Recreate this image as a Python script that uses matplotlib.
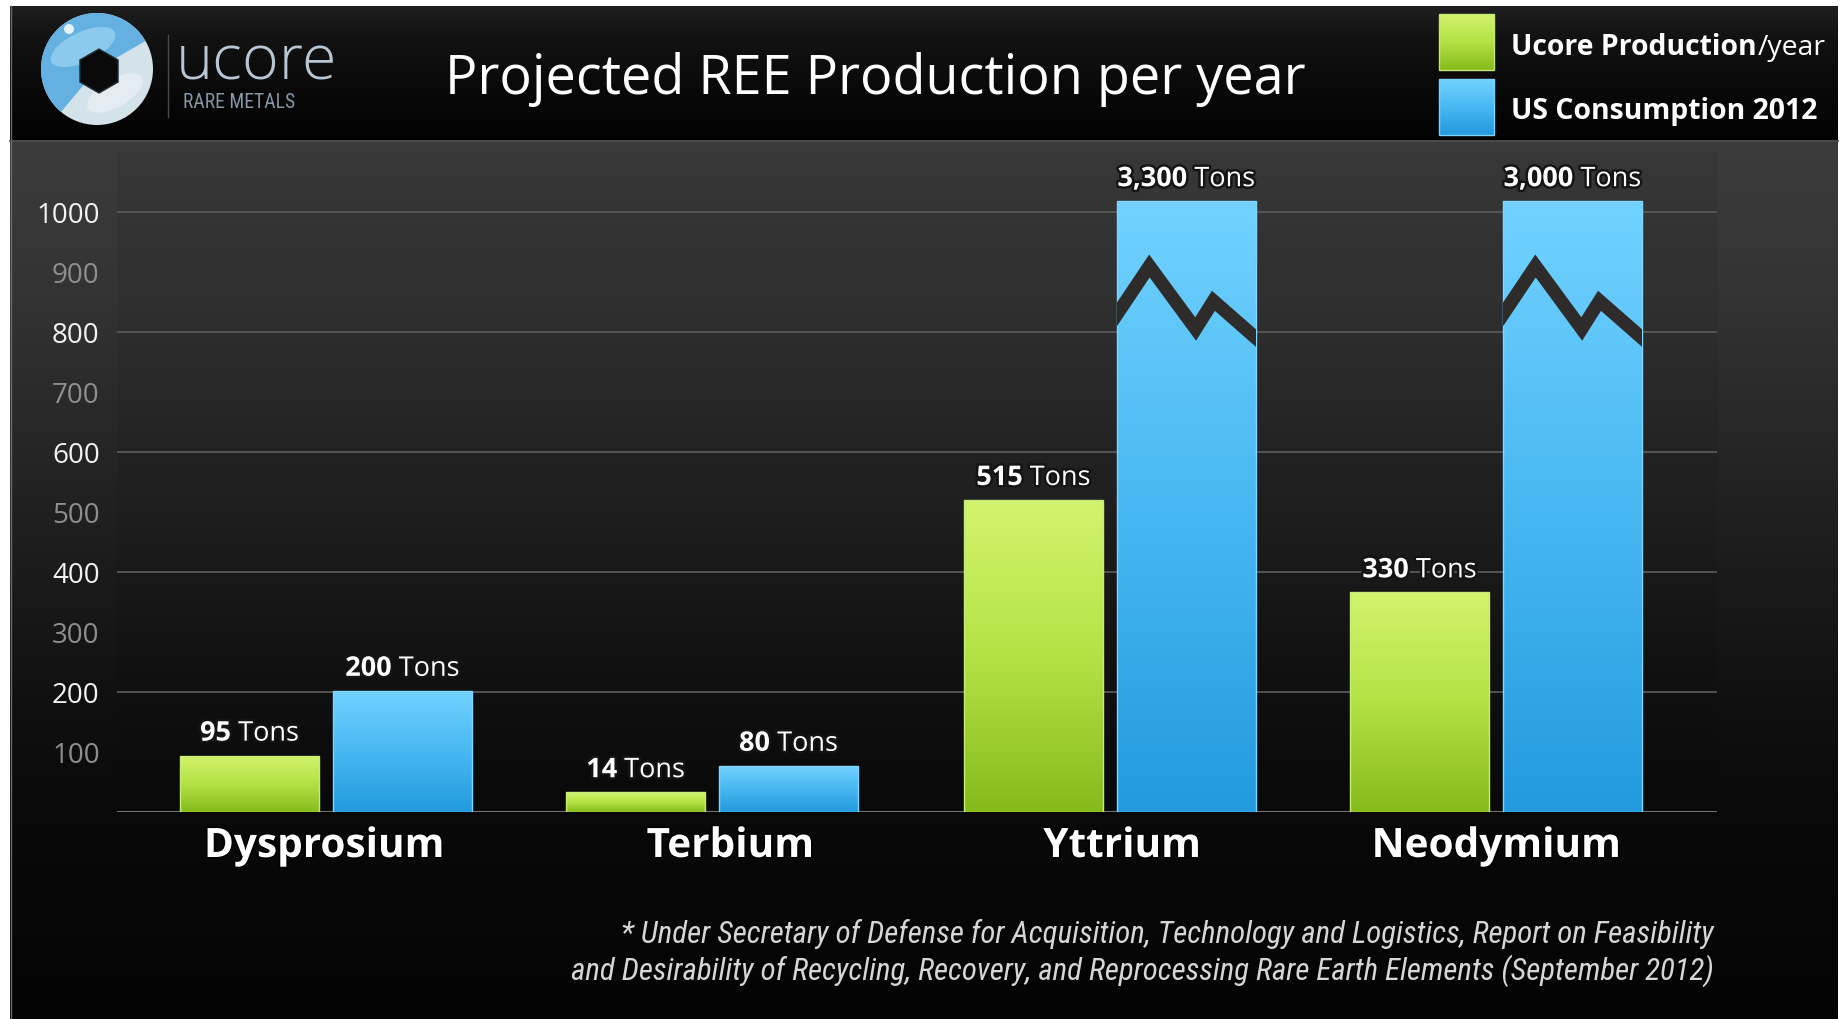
import numpy as np
import matplotlib
matplotlib.use("Agg")
import matplotlib.pyplot as plt
from matplotlib.colors import LinearSegmentedColormap
from matplotlib.patches import Rectangle, Wedge, RegularPolygon, Circle, Ellipse
import matplotlib.patheffects as pe
from matplotlib import font_manager

# ---------------- data ----------------
elements = ["Dysprosium", "Terbium", "Yttrium", "Neodymium"]
ucore_bar = [94, 33, 520, 366]          # bar heights as drawn in the chart
us_bar = [202, 77, 3300, 3000]          # US consumption 2012 (tons)
ucore_labels = ["95", "14", "515", "330"]
us_labels = ["200", "80", "3,300", "3,000"]
yticks = list(range(100, 1001, 100))
series_names = ["Ucore Production", "/year", "US Consumption 2012"]
title = "Projected REE Production per year"
footnote = ["* Under Secretary of Defense for Acquisition, Technology and Logistics, Report on Feasibility",
            "and Desirability of Recycling, Recovery, and Reprocessing Rare Earth Elements (September 2012)"]
AXIS_CAP = 1018   # broken bars are drawn up to this height

# ---------------- layout ----------------
GROUP_X = [0.0, 0.99, 2.01, 3.0]        # group centres (1 unit = 390 px)
CAT_DX_PX = [-2, 18, 12, 0]             # category label nudges in pixels

# ---------------- fonts ----------------
names = {f.name for f in font_manager.fontManager.ttflist}
MAIN = "Open Sans" if "Open Sans" in names else "DejaVu Sans"
NARROW = MAIN
for cand in ["Liberation Sans Narrow", "DejaVu Sans Condensed", "Roboto Condensed"]:
    if cand in names:
        NARROW = cand
        break
plt.rcParams["font.family"] = [MAIN, "DejaVu Sans"]

W, H = 1847, 1020
fig = plt.figure(figsize=(W / 100, H / 100), dpi=100, facecolor="white")
renderer = fig.canvas.get_renderer()


def fit(t, width_px):
    t.set_fontsize(20)
    w = t.get_window_extent(renderer).width
    t.set_fontsize(20 * width_px / w)
    return t.get_fontsize()


# ---------------- background (pixel coords) ----------------
bg = fig.add_axes([0, 0, 1, 1], zorder=0)
bg.set_xlim(0, W)
bg.set_ylim(H, 0)
bg.axis("off")

def vgrad(y0, y1, stops, x0=10, x1=1838):
    ys = np.linspace(y0, y1, 300)
    sp = np.array(stops)
    v = np.interp(ys, sp[:, 0], sp[:, 1])
    arr = np.repeat(v[:, None, None], 3, axis=2)
    bg.imshow(arr, extent=[x0, x1, y1, y0], aspect="auto", interpolation="bilinear", zorder=0)

vgrad(142, H, [(142, 0.235), (300, 0.20), (500, 0.13), (700, 0.065), (830, 0.035), (H, 0.015)])
vgrad(7, 142, [(7, 0.12), (40, 0.07), (100, 0.03), (142, 0.01)])
bg.plot([10, 1838], [142, 142], color="#4e4e4e", lw=1.3, zorder=1)
bg.plot([10.5, 10.5], [7, H], color="#6a6a6a", lw=1.0, zorder=1)
bg.set_xlim(0, W)
bg.set_ylim(H, 0)

# logo
cx, cy = 97, 70
bg.add_patch(Circle((cx, cy), 56, facecolor="#d4e2ea", edgecolor="none", zorder=2))
bg.add_patch(Wedge((cx, cy), 56, 130, 330, facecolor="#58ace0", edgecolor="none", alpha=0.9, zorder=2))
bg.add_patch(Ellipse((cx - 14, cy - 22), 70, 30, angle=-25, facecolor="#a6dcf6", alpha=0.6, zorder=3))
bg.add_patch(Ellipse((cx + 18, cy + 24), 62, 28, angle=-30, facecolor="#f0f4f6", alpha=0.6, zorder=3))
bg.add_patch(RegularPolygon((cx + 2, cy + 2), 6, radius=22, facecolor="#0a0a0a", edgecolor="#20303a", zorder=4))
bg.add_patch(Circle((cx - 28, cy - 40), 5, facecolor="white", alpha=0.85, zorder=4))
bg.plot([168, 168], [36, 118], color="#4a4a4a", lw=1.0, zorder=2)
t = bg.text(176, 79, "ucore", color="#b8c6d4", va="baseline", ha="left", family=[MAIN], weight="light", zorder=5)
fit(t, 162)
t = bg.text(183, 108, "RARE METALS", color="#8796a6", va="baseline", ha="left", family=[NARROW], zorder=5)
fit(t, 112)

# title
t = bg.text(445, 94, title, color="white", va="baseline", ha="left", zorder=5)
fit(t, 857)

# legend
green_cmap = LinearSegmentedColormap.from_list("g", ["#86bb1c", "#b4e244", "#d2f46e"])
blue_cmap = LinearSegmentedColormap.from_list("b", ["#229ade", "#48b8f2", "#72d2ff"])

def grad_patch(axis, patch, cmap, extent, z):
    axis.add_patch(patch)
    g = np.linspace(0, 1, 256)[:, None]
    im = axis.imshow(g, cmap=cmap, extent=extent, origin="lower", aspect="auto",
                     interpolation="bilinear", zorder=z)
    im.set_clip_path(patch)

sq_g = Rectangle((1439, 15), 55, 56, facecolor="none", edgecolor="#c4e878", lw=1.0, zorder=6)
grad_patch(bg, sq_g, green_cmap, [1439, 1494, 71, 15], 5)
sq_b = Rectangle((1439, 80), 55, 56, facecolor="none", edgecolor="#7ad4ff", lw=1.0, zorder=6)
grad_patch(bg, sq_b, blue_cmap, [1439, 1494, 136, 80], 5)
bg.set_xlim(0, W)
bg.set_ylim(H, 0)

t2 = bg.text(1511, 119, series_names[2], color="white", weight="bold", va="baseline", ha="left", zorder=6)
lfs = fit(t2, 307)
t1 = bg.text(1511, 55, series_names[0], color="white", weight="bold", va="baseline", ha="left",
             fontsize=lfs, zorder=6)
w1 = t1.get_window_extent(renderer).width
bg.text(1511 + w1 + 1, 55, series_names[1], color="white", va="baseline", ha="left", fontsize=lfs, zorder=6)

# footnote
ft2 = bg.text(1714, 980, footnote[1], color="#d6d6d6", style="italic", family=[NARROW],
              va="baseline", ha="right", zorder=6)
ffs = fit(ft2, 1145)
bg.text(1714, 943, footnote[0], color="#d6d6d6", style="italic", family=[NARROW],
        va="baseline", ha="right", fontsize=ffs, zorder=6)

# ---------------- main axes ----------------
ax = fig.add_axes([117 / W, 207 / H, 1600 / W, 660 / H], zorder=1)
ax.patch.set_facecolor("black")
ax.patch.set_alpha(0.06)
for s in ax.spines.values():
    s.set_visible(False)
XL = (-(326 - 117) / 390, -(326 - 117) / 390 + 1600 / 390)
YL = (0, 1100)

x = np.array(GROUP_X)
off, bw = 0.196, 0.356

ax.set_yticks(yticks[1::2])
ax.set_yticklabels([str(v) for v in yticks[1::2]])
ax.set_yticks(yticks[0::2], minor=True)
ax.set_yticklabels([str(v) for v in yticks[0::2]], minor=True)
ax.tick_params(axis="y", which="both", length=0, pad=12.5, labelsize=20)
ax.tick_params(axis="y", which="major", labelcolor="#f2f2f2")
ax.tick_params(axis="y", which="minor", labelcolor="#8e8e8e")
ax.set_xticks([])
ax.yaxis.grid(True, which="major", color="#585858", lw=1.3, zorder=0)
ax.set_axisbelow(True)
ax.axhline(0, color="#707070", lw=1.5, zorder=1)

ucore_disp = np.minimum(ucore_bar, AXIS_CAP)
us_disp = np.minimum(us_bar, AXIS_CAP)
gb = ax.bar(x - off, ucore_disp, width=bw, facecolor="none", edgecolor="#c6ea7c", lw=1.0, zorder=3)
bb = ax.bar(x + off, us_disp, width=bw, facecolor="none", edgecolor="#80d6ff", lw=1.0, zorder=3)

for p in gb.patches:
    x0, w_, h_ = p.get_x(), p.get_width(), p.get_height()
    g = np.linspace(0, 1, 256)[:, None]
    im = ax.imshow(g, cmap=green_cmap, extent=[x0, x0 + w_, 0, h_], origin="lower",
                   aspect="auto", interpolation="bilinear", zorder=2)
    im.set_clip_path(p)
for p, v in zip(bb.patches, us_bar):
    x0, w_, h_ = p.get_x(), p.get_width(), p.get_height()
    g = np.linspace(0, 1, 256)[:, None]
    im = ax.imshow(g, cmap=blue_cmap, extent=[x0, x0 + w_, 0, max(h_, 1)], origin="lower",
                   aspect="auto", interpolation="bilinear", zorder=2)
    im.set_clip_path(p)
    if v > AXIS_CAP:
        fx = np.array([-0.05, 0.234, 0.567, 0.695, 1.05])
        fy = np.array([812, 910, 805, 852, 780])
        ln, = ax.plot(x0 + fx * w_, fy, color="#2e2c2b", lw=9.5, solid_joinstyle="miter",
                      solid_capstyle="butt", zorder=4)
        ln.set_clip_path(p)

ax.set_xlim(*XL)
ax.set_ylim(*YL)

# value labels
glow = [pe.withStroke(linewidth=3.5, foreground="#141414")]

def two_part(xc, y, bold, reg, fs=19.5):
    tb = ax.annotate(bold, xy=(xc, y), xytext=(0, 0), textcoords="offset points", ha="left",
                     va="baseline", color="white", weight="bold", fontsize=fs, zorder=6,
                     annotation_clip=False, path_effects=glow)
    tr = ax.annotate(" " + reg, xy=(xc, y), xytext=(0, 0), textcoords="offset points", ha="left",
                     va="baseline", color="white", fontsize=fs, zorder=6,
                     annotation_clip=False, path_effects=glow)
    wb = tb.get_window_extent(renderer).width
    wr = tr.get_window_extent(renderer).width
    start = -(wb + wr) / 2
    tb.set_position((start * 0.72, 15 * 0.72))
    tr.set_position(((start + wb) * 0.72, 15 * 0.72))

for xi, h_, lab in zip(x, ucore_disp, ucore_labels):
    two_part(xi - off, h_, lab, "Tons")
for xi, h_, lab in zip(x, us_disp, us_labels):
    two_part(xi + off, h_, lab, "Tons")

# category labels
cats = [ax.text(xi + dx / 390, -75, name, ha="center", va="baseline", color="white", weight="bold",
                zorder=6, path_effects=[pe.withStroke(linewidth=2, foreground="#000000")])
        for xi, dx, name in zip(x, CAT_DX_PX, elements)]
cfs = fit(cats[0], 240)
for c in cats[1:]:
    c.set_fontsize(cfs)

fig.savefig("out.png", dpi=100, facecolor="white")
